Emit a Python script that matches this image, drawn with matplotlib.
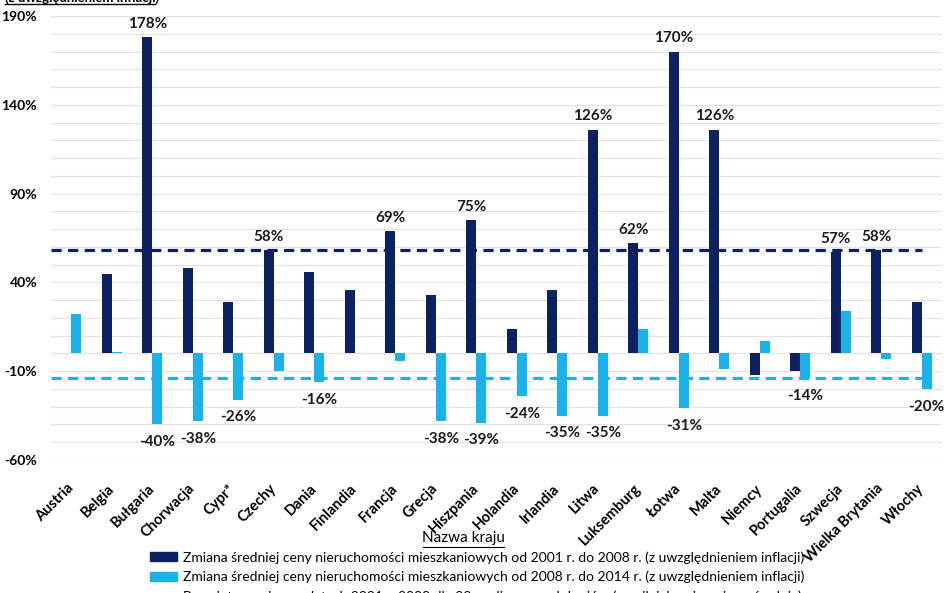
import numpy as np, matplotlib; matplotlib.use("Agg")
import matplotlib.pyplot as plt
from matplotlib.patches import Patch
from matplotlib.lines import Line2D

plt.rcParams['font.family'] = ['Lato', 'DejaVu Sans']

countries = ["Austria", "Belgia", "Bułgaria", "Chorwacja", "Cypr*", "Czechy", "Dania", "Finlandia",
             "Francja", "Grecja", "Hiszpania", "Holandia", "Irlandia", "Litwa", "Luksemburg", "Łotwa",
             "Malta", "Niemcy", "Portugalia", "Szwecja", "Wielka Brytania", "Włochy"]
chg_2001_2008 = [np.nan, 45, 178, 48, 29, 58, 46, 36, 69, 33, 75, 14, 36, 126, 62, 170, 126, -12, -10, 57, 58, 29]
chg_2008_2014 = [22, 1, -40, -38, -26, -10, -16, 0.5, -4, -38, -39, -24, -35, -35, 14, -31, -9, 7, -14, 24, -3, -20]
avg_2001_2008 = 58
avg_2008_2014 = -14
yticks = [-60, -10, 40, 90, 140, 190]

dark = "#0b2161"
light = "#19b2ea"

fig = plt.figure(figsize=(9.48, 5.93), dpi=100)
ax = fig.add_axes([51/948, 1-460/593, 891/948, 444/593])
x = np.arange(len(countries))
w = 0.245
ax.bar(x - w/2, chg_2001_2008, w, color=dark, zorder=3)
ax.bar(x + w/2, chg_2008_2014, w, color=light, zorder=3)

l1, = ax.plot([-0.5, len(countries)-1], [avg_2001_2008]*2, color=dark, lw=2.3, zorder=4)
l1.set_dashes([3.2, 2])
l2, = ax.plot([-0.5, len(countries)-1], [avg_2008_2014]*2, color=light, lw=2.3, zorder=4)
l2.set_dashes([3.2, 2])

for i, (a, b) in enumerate(zip(chg_2001_2008, chg_2008_2014)):
    if a >= 57:
        ax.text(i - w/2, a + 3.5, f"{a:.0f}%", ha="center", va="bottom", fontsize=11, fontweight="bold", color="#1a1a1a")
    if b <= -14:
        ax.text(i + w/2, b - 6, f"{b:.0f}%", ha="center", va="top", fontsize=11, fontweight="bold", color="#1a1a1a")

ax.set_xlim(-0.5, len(countries)-0.5)
ax.set_ylim(-60, 190)
ax.set_yticks(yticks)
ax.set_yticklabels([f"{t}%" for t in yticks], fontsize=10, fontweight="bold")
ax.set_yticks(np.arange(-60, 191, 10), minor=True)
ax.grid(axis="y", which="both", color="#e3e3e3", lw=0.9, zorder=0)
ax.tick_params(axis="y", which="both", length=0, pad=10)
ax.set_xticks(x)
ax.set_xticklabels(countries, rotation=45, ha="right", va="center", rotation_mode="anchor", fontsize=10.5, fontweight="bold")
ax.tick_params(axis="x", length=0, pad=19)
for s in ax.spines.values():
    s.set_visible(False)

# cut-off title at the top and axis title
fig.text(5/948, 1-2/593, "(z uwzględnieniem inflacji)", fontsize=9.5, fontweight="bold", va="baseline")
fig.add_artist(Line2D([5/948, 155/948], [1-4/593]*2, color="black", lw=1))
fig.text(463/948, 1-538/593, "Nazwa kraju", fontsize=11, ha="center", va="center")
fig.add_artist(Line2D([423/948, 504/948], [1-547/593]*2, color="black", lw=0.8))

handles = [Patch(color=dark), Patch(color=light),
           Line2D([], [], color=dark, lw=2.3, dashes=[3.2, 2]),
           Line2D([], [], color=light, lw=2.3, dashes=[3.2, 2])]
labels = ["Zmiana średniej ceny nieruchomości mieszkaniowych od 2001 r. do 2008 r. (z uwzględnieniem inflacji)",
          "Zmiana średniej ceny nieruchomości mieszkaniowych od 2008 r. do 2014 r. (z uwzględnieniem inflacji)",
          "Przeciętna zmiana w latach 2001 – 2008 dla 22 analizowanych krajów (wynik jako nieważona średnia)",
          "Przeciętna zmiana w latach 2008 – 2014 dla 22 analizowanych krajów (wynik jako nieważona średnia)"]
fig.legend(handles, labels, loc="upper center", bbox_to_anchor=(477/948, 1-551/593), frameon=False,
           fontsize=10, handlelength=2.0, handleheight=0.6, handletextpad=0.4, labelspacing=0.5,
           borderpad=0, borderaxespad=0)

fig.savefig("out.png", dpi=100)
